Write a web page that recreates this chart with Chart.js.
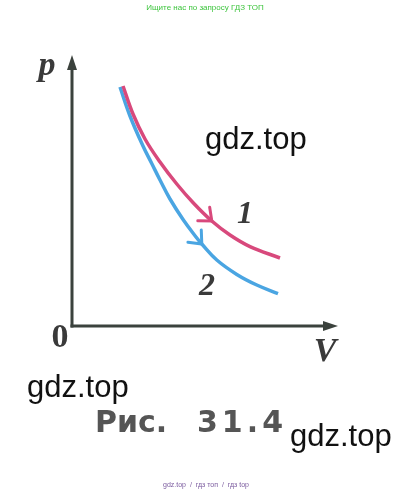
<!DOCTYPE html>
<html>
<head>
<meta charset="utf-8">
<script src="https://cdn.jsdelivr.net/npm/chart.js"></script>
<style>
	html, body { margin: 0; padding: 0; background: #ffffff; }
	#wrap { position: relative; width: 411px; height: 493px; overflow: hidden; }
</style>
</head>
<body>
<div id="wrap"><canvas id="pvChart" width="411" height="493"></canvas></div>
<script>
// Curve 1 (isotherm)
const isothermV = [2.55, 3.05, 3.65, 4.4, 5.24, 6.07, 6.99, 7.9, 8.9, 10.4];
const isothermP = [12.0, 10.6, 9.35, 8.2, 7.1, 6.15, 5.25, 4.55, 3.97, 3.4];
// Curve 2 (adiabat)
const adiabatV = [2.4, 2.9, 3.55, 4.0, 4.4, 4.9, 5.57, 6.24, 6.49, 7.24, 8.24, 9.24, 10.3];
const adiabatP = [11.95, 10.5, 9.0, 8.1, 7.3, 6.35, 5.3, 4.4, 4.1, 3.3, 2.58, 2.05, 1.62];
const curveNames = ["1", "2"];
// which point of each curve carries the direction arrow
const arrowAt = [6, 8];

const axisColor = "#3b423d";
const labelColor = "#3a3a3a";

function toPoints(xs, ys) {
	return xs.map((v, i) => ({ x: v, y: ys[i] }));
}

// axes with arrows, curve arrows and all the texts
const decorPlugin = {
	id: "decor",
	afterDraw(chart) {
		const ctx = chart.ctx;
		const xs = chart.scales.x;
		const ys = chart.scales.y;
		const x0 = xs.getPixelForValue(0);
		const y0 = ys.getPixelForValue(0);
		const area = chart.chartArea;

		ctx.save();
		ctx.strokeStyle = axisColor;
		ctx.fillStyle = axisColor;
		ctx.lineWidth = 3;
		ctx.lineCap = "butt";

		// p axis
		ctx.beginPath();
		ctx.moveTo(x0, y0 + 1.5);
		ctx.lineTo(x0, area.top + 10);
		ctx.stroke();
		ctx.beginPath();
		ctx.moveTo(x0, area.top);
		ctx.lineTo(x0 - 5, area.top + 15);
		ctx.lineTo(x0 + 5, area.top + 15);
		ctx.closePath();
		ctx.fill();

		// V axis
		ctx.beginPath();
		ctx.moveTo(x0 - 1.5, y0);
		ctx.lineTo(area.right - 10, y0);
		ctx.stroke();
		ctx.beginPath();
		ctx.moveTo(area.right, y0);
		ctx.lineTo(area.right - 15, y0 - 5);
		ctx.lineTo(area.right - 15, y0 + 5);
		ctx.closePath();
		ctx.fill();

		// arrows on the curves
		chart.data.datasets.forEach((ds, di) => {
			const pts = chart.getDatasetMeta(di).data;
			const i = arrowAt[di];
			const tip = pts[i];
			const a = pts[i - 1], b = pts[i + 1];
			const ang = Math.atan2(b.y - a.y, b.x - a.x) + Math.PI;
			const len = 14, spread = 0.7;
			ctx.strokeStyle = ds.borderColor;
			ctx.lineWidth = 3;
			ctx.lineCap = "round";
			ctx.beginPath();
			ctx.moveTo(tip.x + len * Math.cos(ang - spread), tip.y + len * Math.sin(ang - spread));
			ctx.lineTo(tip.x, tip.y);
			ctx.lineTo(tip.x + len * Math.cos(ang + spread), tip.y + len * Math.sin(ang + spread));
			ctx.stroke();
		});

		// axis and curve labels
		ctx.fillStyle = labelColor;
		ctx.textAlign = "center";
		ctx.textBaseline = "middle";
		ctx.font = "italic bold 34px 'Liberation Serif', 'DejaVu Serif', serif";
		ctx.fillText("p", 47, 66);
		ctx.fillText("V", 325, 352);
		ctx.font = "italic bold 32px 'Liberation Serif', 'DejaVu Serif', serif";
		ctx.fillText(curveNames[0], 245, 215);
		ctx.fillText(curveNames[1], 207, 287);
		ctx.font = "bold 34px 'Liberation Serif', 'DejaVu Serif', serif";
		ctx.fillText("0", 60, 338);

		// caption
		ctx.fillStyle = "#555555";
		ctx.textAlign = "left";
		ctx.textBaseline = "alphabetic";
		ctx.font = "bold 30px 'DejaVu Sans', sans-serif";
		ctx.letterSpacing = "0px";
		ctx.fillText("Рис.", 95, 432);
		ctx.letterSpacing = "4px";
		ctx.fillText("31.4", 197, 432);
		ctx.letterSpacing = "0px";

		// site marks
		ctx.fillStyle = "#111111";
		ctx.font = "31px 'Liberation Sans', Arial, sans-serif";
		ctx.fillText("gdz.top", 205, 149);
		ctx.fillText("gdz.top", 27, 397);
		ctx.fillText("gdz.top", 290, 446);

		ctx.textAlign = "center";
		ctx.fillStyle = "#3cc43c";
		ctx.font = "8px 'Liberation Sans', Arial, sans-serif";
		ctx.fillText("Ищите нас по запросу ГДЗ ТОП", 205, 10);
		ctx.fillStyle = "#7a5a9e";
		ctx.font = "7px 'Liberation Sans', Arial, sans-serif";
		ctx.fillText("gdz.top  /  гдз топ  /  гдз top", 206, 487);
		ctx.restore();
	},
};

const chart = new Chart(document.getElementById("pvChart").getContext("2d"), {
	type: "scatter",
	data: {
		datasets: [
			{
				label: curveNames[0],
				data: toPoints(isothermV, isothermP),
				borderColor: "#d8497c",
				showLine: true,
				borderWidth: 3.5,
				tension: 0.4,
				pointRadius: 0,
			},
			{
				label: curveNames[1],
				data: toPoints(adiabatV, adiabatP),
				borderColor: "#4aa5e2",
				showLine: true,
				borderWidth: 3.5,
				tension: 0.4,
				pointRadius: 0,
			},
		],
	},
	options: {
		responsive: false,
		animation: false,
		layout: {
			padding: { left: 72, right: 73, top: 55, bottom: 167 },
		},
		plugins: {
			legend: { display: false },
			tooltip: { enabled: false },
		},
		scales: {
			x: { display: false, min: 0, max: 13.3 },
			y: { display: false, min: 0, max: 13.55 },
		},
	},
	plugins: [decorPlugin],
});
</script>
</body>
</html>
